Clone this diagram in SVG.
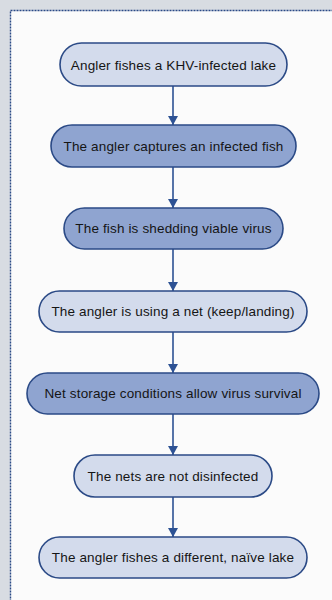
<svg xmlns="http://www.w3.org/2000/svg" width="332" height="600" viewBox="0 0 332 600">
<defs>
<style>
.lt{fill:#d3dbec;stroke:#2b4a86;stroke-width:1.6}
.dk{fill:#8fa4d0;stroke:#2b4a86;stroke-width:1.6}
.t{font-family:"Liberation Sans",Arial,sans-serif;font-size:13.5px;letter-spacing:0.15px;fill:#151515;text-anchor:middle;dominant-baseline:central}
.c{stroke:#2d5294;stroke-width:1.6;fill:none;marker-end:url(#ah)}
</style>
<marker id="ah" markerWidth="9" markerHeight="10" refX="9" refY="5" orient="auto" markerUnits="userSpaceOnUse" viewBox="0 0 9 10">
<path d="M0,0 L9,5 L0,10 Z" fill="#2d5294"/>
</marker>
</defs>
<rect x="0" y="0" width="332" height="600" fill="#d8dce2"/>
<rect x="10.5" y="10.5" width="330" height="600" fill="#fbfbfb" stroke="#2b4a86" stroke-width="1.4" stroke-dasharray="2 1"/>
<g id="connectors">
<line class="c" x1="173" y1="86" x2="173" y2="125"/>
<line class="c" x1="173" y1="167" x2="173" y2="208"/>
<line class="c" x1="173" y1="249" x2="173" y2="291"/>
<line class="c" x1="173" y1="332" x2="173" y2="373"/>
<line class="c" x1="173" y1="414" x2="173" y2="455"/>
<line class="c" x1="173" y1="497" x2="173" y2="537"/>
</g>
<g id="n1"><rect class="lt" x="60" y="43" width="227" height="43" rx="21.5"/><text class="t" x="173.5" y="65">Angler fishes a KHV-infected lake</text></g>
<g id="n2"><rect class="dk" x="51" y="125" width="245" height="42" rx="21"/><text class="t" x="173.5" y="146.5">The angler captures an infected fish</text></g>
<g id="n3"><rect class="dk" x="64" y="208" width="219" height="41" rx="20.5"/><text class="t" x="173.5" y="228.5">The fish is shedding viable virus</text></g>
<g id="n4"><rect class="lt" x="39" y="291" width="268" height="41" rx="20.5"/><text class="t" x="173" y="311.5">The angler is using a net (keep/landing)</text></g>
<g id="n5"><rect class="dk" x="27" y="373" width="292" height="41" rx="20.5"/><text class="t" x="173" y="393.5">Net storage conditions allow virus survival</text></g>
<g id="n6"><rect class="lt" x="74" y="455" width="198" height="42" rx="21"/><text class="t" x="173" y="476">The nets are not disinfected</text></g>
<g id="n7"><rect class="lt" x="39" y="537" width="268" height="41" rx="20.5"/><text class="t" x="173" y="557.5">The angler fishes a different, naïve lake</text></g>
</svg>
